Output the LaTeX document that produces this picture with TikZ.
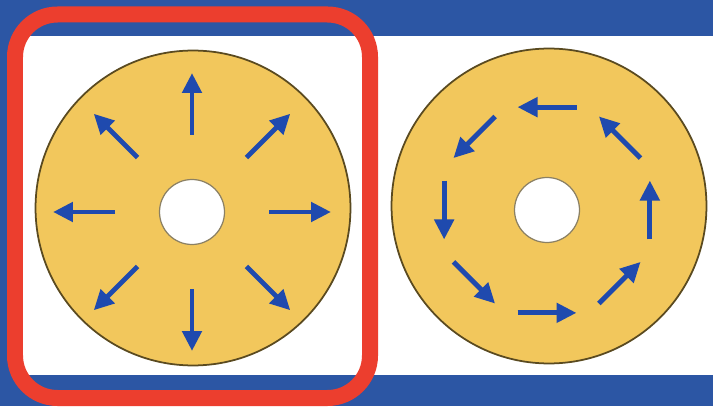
\documentclass[tikz,border=0pt]{standalone}
\usepackage{tikz}
\usepackage{xcolor}
\definecolor{bandblue}{HTML}{2C56A4}
\definecolor{framered}{HTML}{EC3E2E}
\definecolor{discfill}{HTML}{F2C75C}
\definecolor{discline}{HTML}{5A4A20}
\definecolor{flowblue}{HTML}{1F4AAE}
\usetikzlibrary{arrows.meta}

\begin{document}
\begin{tikzpicture}[
        x=0.02cm, y=0.02cm,
        disc/.style={
            circle,
            draw=discline,
            fill=discfill,
            line width=1pt,
            minimum size=6.3cm,
            inner sep=0pt
        },
        hole/.style={
            circle,
            draw=discline!70,
            fill=white,
            line width=0.7pt,
            minimum size=1.3cm,
            inner sep=0pt
        },
        flow/.style={
            -{Triangle[length=0.4cm, width=0.38cm]},
            draw=flowblue,
            line width=2.8pt
        }
    ]
    \useasboundingbox (0,0) rectangle (713,406);

    % Background bands
    \fill[bandblue] (0,0) rectangle (713,406);
    \fill[white] (20,31) rectangle (713,370);

    % Left disc: radial arrows
    \node[disc] (leftdisc) at (193,198) {};
    \node[hole] (lefthole) at (192,194) {};
    \foreach \ang in {0,45,...,315}
        \draw[flow] ([shift={(\ang:77)}]lefthole.center) -- ([shift={(\ang:139)}]lefthole.center);

    % Right disc: circulating arrows
    \node[disc] (rightdisc) at (549,200) {};
    \node[hole] (righthole) at (547,196) {};
    \foreach \ang in {0,45,...,315}
        \draw[flow] ([shift={({\ang-16}:107)}]righthole.center) -- ([shift={({\ang+16}:107)}]righthole.center);

    % Highlight frame
    \draw[framered, line width=0.32cm, rounded corners=0.85cm] (15,8) rectangle (370,391.5);

\end{tikzpicture}
\end{document}
